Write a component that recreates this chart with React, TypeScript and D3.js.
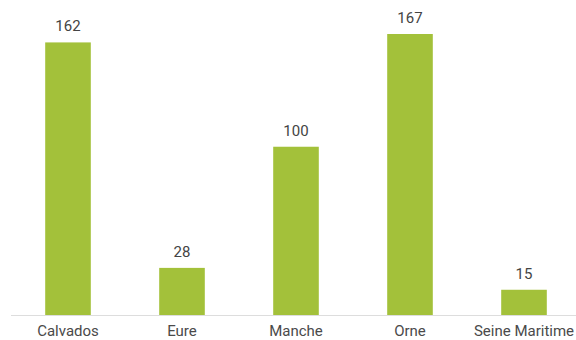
import React from "react";
import * as d3 from "d3";

const categories = ["Calvados", "Eure", "Manche", "Orne", "Seine Maritime"];
const values = [162, 28, 100, 167, 15];

const W = 576;
const H = 340;

export default function App() {
  const x = d3
    .scaleBand<string>()
    .domain(categories)
    .range([11, 581])
    .paddingInner(0.6)
    .paddingOuter(0.3);
  const y = d3.scaleLinear().domain([0, 167]).range([315, 34]);

  return (
    <svg
      width={W}
      height={H}
      style={{ position: "absolute", left: 0, top: 0, fontFamily: "Roboto, sans-serif" }}
    >
      {categories.map((c, i) => (
        <g key={c}>
          <rect
            x={x(c)}
            y={y(values[i])}
            width={x.bandwidth()}
            height={y(0) - y(values[i])}
            fill="#a3c13a"
          />
          <text
            x={(x(c) as number) + x.bandwidth() / 2}
            y={y(values[i]) - 11}
            textAnchor="middle"
            fontSize={15}
            fill="#444"
          >
            {values[i]}
          </text>
          <text
            x={(x(c) as number) + x.bandwidth() / 2}
            y={336}
            textAnchor="middle"
            fontSize={15}
            fill="#4a4a4a"
          >
            {c}
          </text>
        </g>
      ))}
      <line x1={11} x2={W} y1={315.5} y2={315.5} stroke="#ddd" strokeWidth={1} />
    </svg>
  );
}
